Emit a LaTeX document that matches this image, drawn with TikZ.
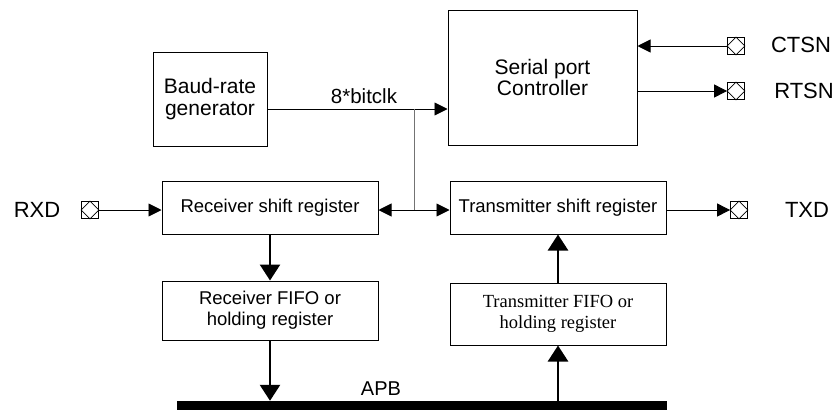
\documentclass[tikz,border=0pt]{standalone}
\usepackage{fontspec}
\setmainfont{Liberation Sans}
\newfontfamily\serifnormal{Liberation Serif}
\usetikzlibrary{arrows.meta}
\begin{document}
\begin{tikzpicture}[x=1pt,y=-1pt,
  box/.style={draw,line width=1pt,inner sep=0pt,align=center,font=\fontsize{18.5}{21}\selectfont},
  bigtext/.style={font=\fontsize{21}{21.5}\selectfont},
  sig/.style={line width=0.9pt},
  sigarrow/.style={sig,-{Triangle[length=13pt,width=13pt]}},
  bus/.style={line width=2.6pt,-{Triangle[length=16pt,width=20pt]}},
  pin/.style={draw,line width=0.8pt,minimum size=17pt,inner sep=0pt},
  lbl/.style={font=\fontsize{22}{24}\selectfont},
  txt/.style={font=\fontsize{18.5}{21}\selectfont,inner sep=0pt}]
\useasboundingbox (0,0) rectangle (837,410);
% blocks
\node[box,bigtext,minimum width=114pt,minimum height=94pt] (baud) at (210,99) {Baud-rate\\generator};
\node[box,bigtext,minimum width=189pt,minimum height=135pt] (ctrl) at (542.5,77.5) {Serial port\\Controller};
\node[box,minimum width=216pt,minimum height=53pt] (rsr) at (270,207.5) {Receiver shift register};
\node[box,minimum width=216pt,minimum height=53pt] (tsr) at (558,207.5) {Transmitter shift register};
\node[box,minimum width=216pt,minimum height=59pt] (rfifo) at (270,310.5) {Receiver FIFO or\\holding register};
\node[box,minimum width=216pt,minimum height=62pt,font=\serifnormal\fontsize{18.5}{21}\selectfont] (tfifo) at (558,314) {Transmitter FIFO or\\holding register};
\node[fill,inner sep=0pt,minimum width=490pt,minimum height=9pt] (apb) at (422,405.5) {};
\node[txt,font=\fontsize{20}{21}\selectfont] (apblbl) at (381,389) {APB};
% pins
\node[pin] (ctsnp) at (736,46) {};
\node[pin] (rtsnp) at (736,91) {};
\node[pin] (rxdp) at (90,210) {};
\node[pin] (txdp) at (739,210) {};
\foreach \p in {ctsnp,rtsnp,rxdp,txdp}
  \draw[line width=0.8pt] (\p.north) -- (\p.east) -- (\p.south) -- (\p.west) -- cycle;
\node[lbl] (ctsn) at (801,45) {CTSN};
\node[lbl] (rtsn) at (804,91) {RTSN};
\node[lbl] (rxd) at (37,210) {RXD};
\node[lbl] (txd) at (807,210) {TXD};
% junctions
\coordinate (j1) at (414,109);
\coordinate (j2) at (414,210);
% clock
\draw[sig] (baud.east |- j1) -- (j1);
\draw[sigarrow] (j1) -- (ctrl.west |- j1);
\node[txt,font=\fontsize{20.5}{21}\selectfont] (clk) at (364,96) {8*bitclk};
\draw[line width=0.9pt,black!55] (j1) -- (j2);
\draw[sigarrow] (j2) -- (rsr.east |- j2);
\draw[sigarrow] (j2) -- (tsr.west |- j2);
% handshake
\draw[sigarrow] (ctsnp.west) -- (ctrl.east |- ctsnp.west);
\draw[sigarrow] (ctrl.east |- rtsnp.west) -- (rtsnp.west);
% serial data
\draw[sigarrow] (rxdp.east) -- (rsr.west |- rxdp.east);
\draw[sigarrow] (tsr.east |- txdp.west) -- (txdp.west);
% data path
\draw[bus] (rsr.south) -- (rfifo.north);
\draw[bus] (rfifo.south) -- (rfifo.south |- apb.north);
\draw[bus] (apb.north -| tfifo.south) -- (tfifo.south);
\draw[bus] (tfifo.north) -- (tsr.south);
\end{tikzpicture}
\end{document}
